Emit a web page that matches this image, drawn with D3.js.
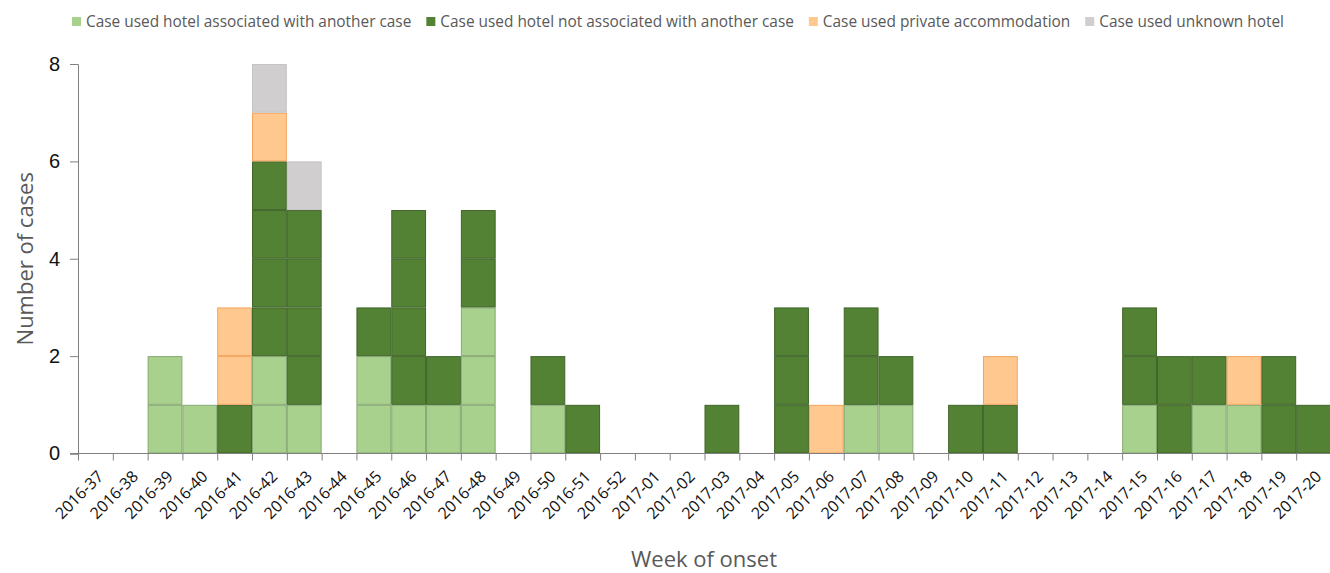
<!DOCTYPE html>
<html>
<head>
<meta charset="utf-8">
<script src="https://cdn.jsdelivr.net/npm/d3@7"></script>
<style>
  body { margin: 0; background: #fff; }
  svg { font-family: "Open Sans", "Liberation Sans", sans-serif; }
</style>
</head>
<body>
<div id="main-frame"></div>
<script>
const weeks = [
  "2016-37", "2016-38", "2016-39", "2016-40", "2016-41", "2016-42", "2016-43", "2016-44",
  "2016-45", "2016-46", "2016-47", "2016-48", "2016-49", "2016-50", "2016-51", "2016-52",
  "2017-01", "2017-02", "2017-03", "2017-04", "2017-05", "2017-06", "2017-07", "2017-08",
  "2017-09", "2017-10", "2017-11", "2017-12", "2017-13", "2017-14", "2017-15", "2017-16",
  "2017-17", "2017-18", "2017-19", "2017-20",
];

const seriesNames = [
  "Case used hotel associated with another case",
  "Case used hotel not associated with another case",
  "Case used private accommodation",
  "Case used unknown hotel",
];

// cases per week, one array per series
const associated = [0, 0, 2, 1, 0, 2, 1, 0, 2, 1, 1, 3, 0, 1, 0, 0, 0, 0, 0, 0, 0, 0, 1, 1, 0, 0, 0, 0, 0, 0, 1, 0, 1, 1, 0, 0];
const notAssociated = [0, 0, 0, 0, 1, 4, 4, 0, 1, 4, 1, 2, 0, 1, 1, 0, 0, 0, 1, 0, 3, 0, 2, 1, 0, 1, 1, 0, 0, 0, 2, 2, 1, 0, 2, 1];
const privateAcc = [0, 0, 0, 0, 2, 1, 0, 0, 0, 0, 0, 0, 0, 0, 0, 0, 0, 0, 0, 0, 0, 1, 0, 0, 0, 0, 1, 0, 0, 0, 0, 0, 0, 1, 0, 0];
const unknownHotel = [0, 0, 0, 0, 0, 1, 1, 0, 0, 0, 0, 0, 0, 0, 0, 0, 0, 0, 0, 0, 0, 0, 0, 0, 0, 0, 0, 0, 0, 0, 0, 0, 0, 0, 0, 0];

const yTicks = [0, 2, 4, 6, 8];

const fills = ["#a9d18e", "#548235", "#ffc88e", "#d0cece"];
const strokes = ["#86a872", "#3f6528", "#f2a35e", "#c6c4c4"];

const width = 1330;
const height = 573;
const margin = { top: 64, right: 0, bottom: 120, left: 78 };

const svg = d3
  .select("#main-frame")
  .append("svg")
  .attr("width", width)
  .attr("height", height);

const x = d3
  .scaleBand()
  .domain(weeks)
  .range([margin.left, width + 1])
  .padding(0);

const y = d3
  .scaleLinear()
  .domain([0, 8])
  .range([height - margin.bottom + 0.5, margin.top]);

// one rect per case, stacked by series
const counts = [associated, notAssociated, privateAcc, unknownHotel];
const cells = [];
weeks.forEach((w, i) => {
  let level = 0;
  counts.forEach((arr, s) => {
    for (let k = 0; k < arr[i]; k++) {
      cells.push({ week: w, series: s, y0: level, y1: level + 1 });
      level += 1;
    }
  });
});

svg
  .append("g")
  .selectAll("rect")
  .data(cells)
  .enter()
  .append("rect")
  .attr("x", (d) => x(d.week) + 0.5)
  .attr("y", (d) => y(d.y1) + 0.5)
  .attr("width", x.bandwidth() - 1)
  .attr("height", (d) => y(d.y0) - y(d.y1) - 1)
  .attr("fill", (d) => fills[d.series])
  .attr("stroke", (d) => strokes[d.series])
  .attr("stroke-width", 1);

// y axis
const yAxis = svg
  .append("g")
  .attr("transform", `translate(${margin.left},0)`)
  .call(d3.axisLeft(y).tickValues(yTicks).tickSize(8).tickPadding(10));

yAxis.select(".domain").attr("stroke", "#808080");
yAxis.selectAll(".tick line").attr("stroke", "#808080");
yAxis
  .selectAll(".tick text")
  .attr("font-size", "20px")
  .attr("fill", "#111");

// x axis: ticks at band boundaries
const xAxis = svg
  .append("g")
  .attr("transform", `translate(0,${y(0)})`);

xAxis
  .append("line")
  .attr("x1", margin.left - 8)
  .attr("x2", width)
  .attr("stroke", "#808080");

xAxis
  .selectAll(".xtick")
  .data(weeks)
  .enter()
  .append("line")
  .attr("x1", (d) => x(d) + 0.5)
  .attr("x2", (d) => x(d) + 0.5)
  .attr("y1", 0)
  .attr("y2", 7)
  .attr("stroke", "#808080");

xAxis
  .selectAll(".xlabel")
  .data(weeks)
  .enter()
  .append("text")
  .attr(
    "transform",
    (d) => `translate(${x(d) + x.bandwidth() / 2 + 5},${20}) rotate(-45)`
  )
  .attr("text-anchor", "end")
  .attr("dy", "0.35em")
  .attr("font-size", "16px")
  .attr("fill", "#111")
  .text((d) => d);

// axis titles
svg
  .append("text")
  .attr("x", (margin.left + width) / 2)
  .attr("y", 567)
  .attr("text-anchor", "middle")
  .attr("font-size", "22px")
  .attr("fill", "#595959")
  .text("Week of onset");

svg
  .append("text")
  .attr("transform", `translate(33,${(y(0) + y(8)) / 2}) rotate(-90)`)
  .attr("text-anchor", "middle")
  .attr("font-size", "22px")
  .attr("fill", "#595959")
  .text("Number of cases");

// legend
const legend = svg.append("g").attr("transform", "translate(72,22)");
let lx = 0;
seriesNames.forEach((name, i) => {
  const item = legend.append("g").attr("transform", `translate(${lx},0)`);
  item
    .append("rect")
    .attr("x", 0)
    .attr("y", -5)
    .attr("width", 9)
    .attr("height", 9)
    .attr("fill", fills[i]);
  const t = item
    .append("text")
    .attr("x", 14)
    .attr("y", 0)
    .attr("dy", "0.35em")
    .attr("font-size", "15.4px")
    .attr("fill", "#595959")
    .text(name);
  lx += 14 + t.node().getComputedTextLength() + 15;
});
</script>
</body>
</html>
